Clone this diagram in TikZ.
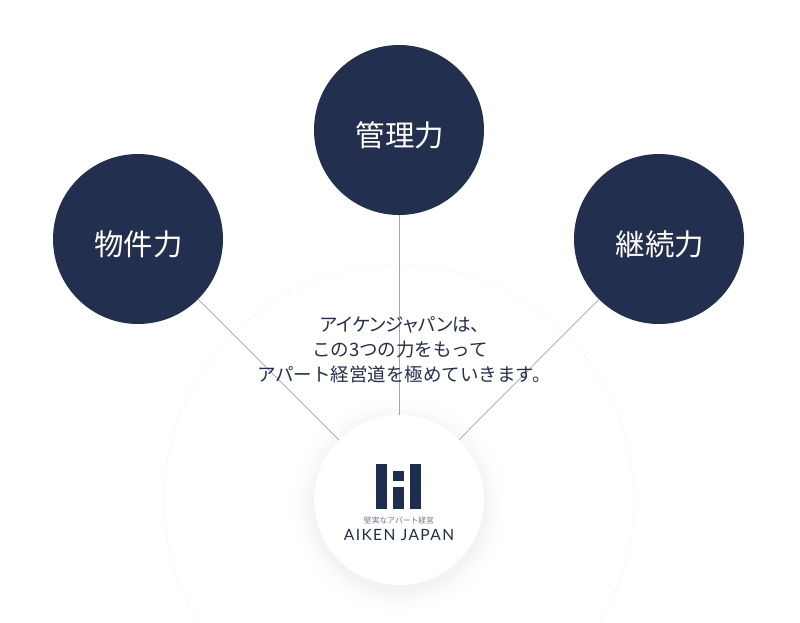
\documentclass[tikz,border=0pt]{standalone}
\usepackage{fontspec}
\setmainfont{Noto Sans CJK JP}
\newfontfamily\cjkfont{Noto Sans CJK JP}
\newfontfamily\cjkprop{Noto Sans CJK JP}[RawFeature=+palt]
\newfontfamily\latinlogo{Lato}[LetterSpace=9]
\definecolor{navy}{HTML}{232F4F}
\definecolor{logonavy}{HTML}{1E2D52}
\definecolor{linkgray}{HTML}{A2A4B4}
\tikzset{
  force/.style={circle,fill=navy,draw=none,minimum size=170pt,inner sep=0pt},
  forcelabel/.style={text=white,inner sep=0pt,font=\cjkfont\fontsize{29.5}{30}\selectfont},
  hub/.style={circle,fill=white,draw=none,minimum size=170pt,inner sep=0pt},
  link/.style={draw=linkgray,line width=0.7pt},
  logobar/.style={fill=logonavy,draw=none},
  orbit/.style={draw=black!10,line width=0.6pt,dotted},
}
\begin{document}
\begin{tikzpicture}[x=1pt,y=-1pt]
\useasboundingbox (0,0) rectangle (800,622);
\fill[white] (0,0) rectangle (800,622);
\clip (0,0) rectangle (800,622);
% outer orbit
\draw[orbit] (399,500) circle[radius=235];
% soft halo round the hub
\foreach \r/\c in {108/0.2,106/0.4,104/0.6,102/0.9,100/1.2,98/1.5,96/1.9,94/2.3,92/2.8,90/3.4,88/4,86/4.8}{
  \fill[black!\c] (399,505) circle[radius=\r];
}
\node[force] (left)  at (138,239) {};
\node[force] (top)   at (399,130) {};
\node[force] (right) at (659,239) {};
\node[hub]   (hub)   at (399,500) {};
\draw[link] (left) -- (hub);
\draw[link] (top) -- (hub);
\draw[link] (right) -- (hub);
\node[forcelabel] (leftlabel)  at (138.5,244) {物件力};
\node[forcelabel] (toplabel)   at (400,135) {管理力};
\node[forcelabel] (rightlabel) at (660,244) {継続力};
\node[text=navy,align=center,font=\cjkfont\fontsize{18.5}{25}\selectfont,inner sep=0pt] (msg) at (400,350)
  {{\cjkprop アイケンジャパンは、}\\この3つの力をもって\\\hspace*{8pt}アパート経営道を極めていきます。};
% logo
\fill[logobar] (375.7,464) rectangle (387.3,509);
\fill[logobar] (392.7,470.7) rectangle (404,481.3);
\fill[logobar] (392.7,487.3) rectangle (404,509);
\fill[logobar] (410,464) rectangle (421.3,509);
\node[text=logonavy!65,font=\cjkfont\fontsize{7.8}{8}\selectfont,inner sep=0pt] (tag) at (399,521) {堅実なアパート経営};
\node[text=logonavy,font=\latinlogo\fontsize{15.5}{16}\selectfont,inner sep=0pt] (name) at (399,535) {AIKEN JAPAN};
\end{tikzpicture}
\end{document}
